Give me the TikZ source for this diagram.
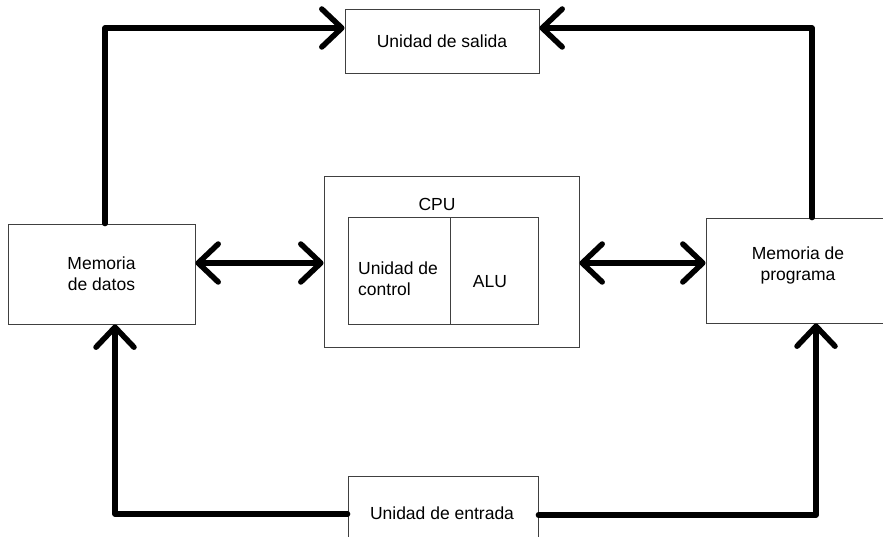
\documentclass[tikz,border=0pt]{standalone}
\usepackage{fontspec}
\setmainfont{Liberation Sans}
\usetikzlibrary{arrows.meta}
\begin{document}
\begin{tikzpicture}[x=1pt,y=-1pt,
  box/.style={draw=black!75,line width=0.9pt,inner sep=0pt,
    font=\fontsize{17.5}{21}\selectfont,align=center},
  txt/.style={inner sep=0pt,font=\fontsize{17.5}{21}\selectfont,align=center},
  barb/.tip={Straight Barb[length=20pt,width=38pt,line width=5.5pt,round]},
  conn/.style={line width=5.5pt,line cap=round,line join=round,-barb},
  twoway/.style={conn,barb-barb}]
\useasboundingbox (0,0) rectangle (883,537);
\clip (0,0) rectangle (883,537);
% units
\node[box,minimum width=194pt,minimum height=64pt] (salida) at (442,41) {Unidad de salida};
\node[box,minimum width=187pt,minimum height=100pt] (datos) at (101.5,274) {Memoria\\de datos};
\node[box,minimum width=255pt,minimum height=171pt] (cpu) at (451.5,261.5) {};
\node[txt] (cpulbl) at (437,204) {CPU};
\node[box,minimum width=102pt,minimum height=107pt] (ctrl) at (399,270.5) {};
\node[txt,align=left,anchor=west] (ctrltxt) at (358,279) {Unidad de\\control};
\node[box,minimum width=88pt,minimum height=107pt] (alu) at (494,270.5) {};
\node[txt] (alutxt) at (490,282) {ALU};
\node[box,minimum width=194pt,minimum height=105pt] (programa) at (803,270.5) {};
\node[txt] (progtxt) at (798,265) {Memoria de\\programa};
\node[box,minimum width=190pt,minimum height=84pt] (entrada) at (443,518) {};
\node[txt] (entxt) at (442,513) {Unidad de entrada};
% data paths
\draw[conn] ([xshift=3.5pt]datos.north) |- ([yshift=13pt]salida.west);
\draw[conn] ([xshift=9pt]programa.north) |- ([yshift=13pt]salida.east);
\draw[twoway] ([yshift=11pt]datos.east) -- ([yshift=11pt]datos.east -| cpu.west);
\draw[twoway] ([yshift=-1.5pt]cpu.east) -- ([yshift=-1.5pt]cpu.east -| programa.west);
\draw[conn] ([yshift=4pt]entrada.west) -| ([xshift=13.5pt]datos.south);
\draw[conn] ([yshift=3pt]entrada.east) -| ([xshift=13pt]programa.south);
\end{tikzpicture}
\end{document}
